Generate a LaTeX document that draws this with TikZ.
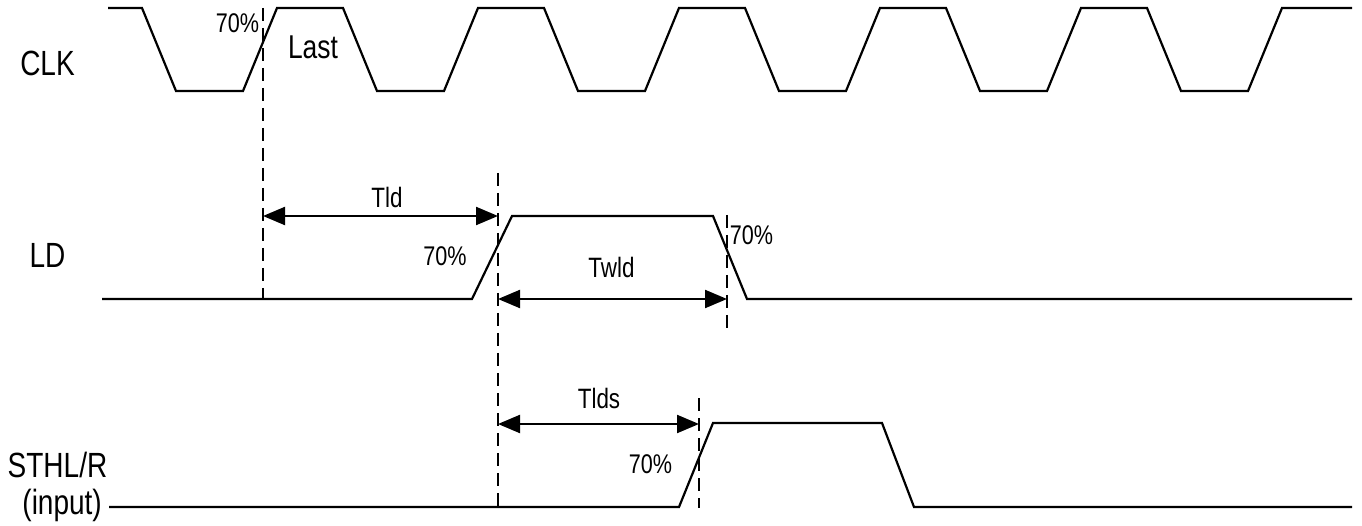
\documentclass[tikz,border=0pt]{standalone}
\usepackage{fontspec}
\setmainfont{Liberation Sans}[FakeStretch=0.8]
\usetikzlibrary{arrows.meta}
\begin{document}
\begin{tikzpicture}[x=1pt,y=-1pt,
  wave/.style={line width=2.2pt,line join=miter},
  guide/.style={line width=2.6pt,dash pattern=on 13pt off 7pt},
  dimarrow/.style={line width=2.2pt,{Triangle[length=22pt,width=18pt]}-{Triangle[length=22pt,width=18pt]}},
  siglabel/.style={anchor=base,inner sep=0pt,font=\fontsize{35}{40}\selectfont},
  lastlabel/.style={anchor=base,inner sep=0pt,font=\fontsize{33}{38}\selectfont},
  tlabel/.style={anchor=base,inner sep=0pt,font=\fontsize{28}{32}\selectfont},
  pct/.style={anchor=base,inner sep=0pt,font=\fontsize{27}{31}\selectfont}]
\useasboundingbox[fill=white] (0,0) rectangle (1362,526);

% signal names
\node[siglabel] (clk) at (47.5,76) {CLK};
\node[siglabel] (ld) at (47.5,268) {LD};
\node[siglabel] (sthl) at (57.5,477) {STHL/R};
\node[siglabel,anchor=base east] (inp) at (102,514) {(input)};

% CLK waveform
\draw[wave] (108,8) -- (142,8) -- (176,91) -- (243,91) -- (277,8) -- (343,8)
  -- (377,91) -- (444,91) -- (478,8) -- (544,8) -- (578,91) -- (645,91)
  -- (679,8) -- (745,8) -- (779,91) -- (846,91) -- (880,8) -- (946,8)
  -- (980,91) -- (1047,91) -- (1081,8) -- (1147,8) -- (1181,91) -- (1248,91)
  -- (1282,8) -- (1352,8);

% LD waveform
\draw[wave] (102,299) -- (472,299) -- (512,216) -- (713,216) -- (747,299) -- (1352,299);

% STHL/R waveform
\draw[wave] (109,507) -- (679,507) -- (713,423) -- (882,423) -- (914,507) -- (1352,507);

% guide lines
\coordinate (g1t) at (263,8);   \coordinate (g1b) at (263,299);
\coordinate (g2t) at (498,173); \coordinate (g2b) at (498,508);
\coordinate (g3t) at (727,215); \coordinate (g3b) at (727,333);
\coordinate (g4t) at (699,398); \coordinate (g4b) at (699,508);
\draw[guide] (g1t) -- (g1b);
\draw[guide] (g2t) -- (g2b);
\draw[guide] (g3t) -- (g3b);
\draw[guide] (g4t) -- (g4b);

% dimension arrows
\coordinate (tlda) at (263,216); \coordinate (tldb) at (498,216);
\coordinate (twla) at (498,299); \coordinate (twlb) at (727,299);
\coordinate (tlsa) at (498,424); \coordinate (tlsb) at (699,424);
\draw[dimarrow] (tlda) -- (tldb);
\draw[dimarrow] (twla) -- (twlb);
\draw[dimarrow] (tlsa) -- (tlsb);

% labels
\node[pct] (p1) at (237.5,33) {70\%};
\node[lastlabel] (last) at (313,59) {Last};
\node[tlabel] (tld) at (387,208) {Tld};
\node[pct] (p2) at (445,266) {70\%};
\node[tlabel] (twld) at (611.5,278) {Twld};
\node[pct] (p3) at (751.5,245) {70\%};
\node[tlabel] (tlds) at (599,408) {Tlds};
\node[pct] (p4) at (650.5,473) {70\%};
\end{tikzpicture}
\end{document}
